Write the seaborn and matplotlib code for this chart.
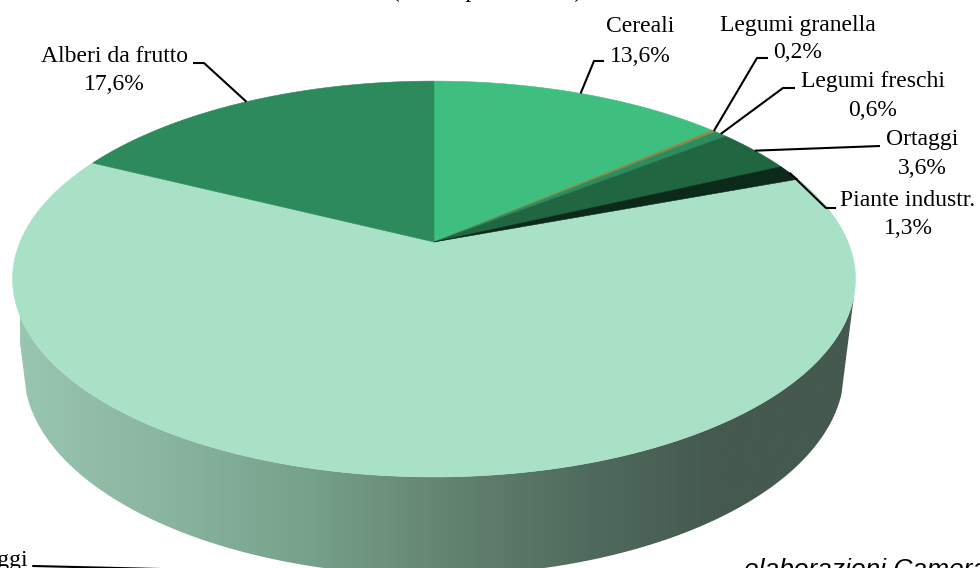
import numpy as np
import seaborn as sns
import matplotlib.pyplot as plt
from matplotlib.patches import Polygon

# crops, clockwise from 12 o'clock
names = ['Cereali', 'Legumi granella', 'Legumi freschi', 'Ortaggi', 'Piante industr.', 'Foraggi', 'Alberi da frutto']
# the big slice has no readable value (cut off), 63,1 is what is left of 100
shares = [13.6, 0.2, 0.6, 3.6, 1.3, 63.1, 17.6]
slice_colors = ['#3fbf7f', '#8f8a45', '#2e8b5e', '#206640', '#0c2a1a', '#a9e1c7', '#2d8a5c']
wall_colors = ['#99c6b1', '#8ab5a0', '#77a38d', '#648572', '#506c5e', '#45594f', '#45594f']

# where the labels and leader lines sit, in pixels: label x, name y, value y, elbow, leader end
label_pos = {
    'Cereali': (640, 27, 56, (594, 61), (604, 61)),
    'Legumi granella': (798, 25, 53, (757, 58), (768, 58)),
    'Legumi freschi': (873, 82, 110, (783, 88), (795, 88)),
    'Ortaggi': (922, 140, 168, None, (880, 146)),
    'Piante industr.': (908, 201, 229, (826, 208), (836, 208)),
    'Alberi da frutto': (114, 56, 84, (204, 63), (193, 63)),
}

sns.set_theme(style='white')
plt.rcParams['font.family'] = ['Liberation Serif']


def project(pct, a=414, b=191, y0=242, k=0.187):
    # position on the tilted disc, with perspective, pct is clockwise from the top
    t = np.radians(np.asarray(pct) * 3.6)
    d = 1 + k * np.cos(t)
    return 434 + a * np.sin(t) / d, y0 - b * np.cos(t) / d


fig = plt.figure(figsize=(9.8, 5.68), dpi=100)
ax = fig.add_axes([0, 0, 1, 1])
ax.set_xlim(0, 980)
ax.set_ylim(568, 0)
ax.axis('off')

# side wall: front of the top disc, joined to front of a lower disc
tx, ty = project(np.linspace(29.2, 70.8, 200))
bx, by = project(np.linspace(70.2, 29.8, 200), a=403, b=198, y0=332)
wall = Polygon(np.c_[np.r_[tx, bx], np.r_[ty, by]], closed=True, transform=ax.transData, fc='none', ec='none')
ax.add_patch(wall)
cmap = sns.blend_palette(wall_colors, as_cmap=True)
grad = ax.imshow(np.linspace(0, 1, 512)[None, :], extent=(20, 860, 568, 0), cmap=cmap, aspect='auto', zorder=1)
grad.set_clip_path(wall)
ax.set_xlim(0, 980)
ax.set_ylim(568, 0)

# top face
edges = np.r_[0, np.cumsum(shares)]
for i, color in enumerate(slice_colors):
    x, y = project(np.linspace(edges[i], edges[i + 1], 200))
    ax.fill(np.r_[434, x], np.r_[242, y], color=color, lw=0.4, zorder=2 + (shares[i] > 50) * -0.5)

# leaders and labels
for i, name in enumerate(names):
    if name not in label_pos:
        continue
    lx, y1, y2, elbow, end = label_pos[name]
    sx, sy = project((edges[i] + edges[i + 1]) / 2)
    pts = [(sx, sy)] + ([elbow] if elbow else []) + [end]
    ax.plot(*zip(*pts), color='black', lw=1.5, zorder=3, solid_capstyle='butt')
    ax.text(lx, y1, name, ha='center', va='center', fontsize=17, color='black')
    ax.text(lx, y2, f'{shares[i]:.1f}%'.replace('.', ','), ha='center', va='center', fontsize=17, color='black')

# label of the big slice runs off the left edge, its leader off the bottom
ax.plot([33, 160], [566, 569], color='black', lw=1.5, zorder=3)
ax.text(28, 566, names[5], ha='right', va='baseline', fontsize=17, color='black')

# title line is cut off at the top, only the feet show: wording is a guess
ax.text(392, -3, '(dati in percentuale)', ha='left', va='baseline', fontsize=17, color='black')
ax.text(744, 577, 'elaborazioni Camera', ha='left', va='baseline', fontsize=19, style='italic',
        family='Liberation Sans', color='black')

fig.savefig('out.png', dpi=100)
